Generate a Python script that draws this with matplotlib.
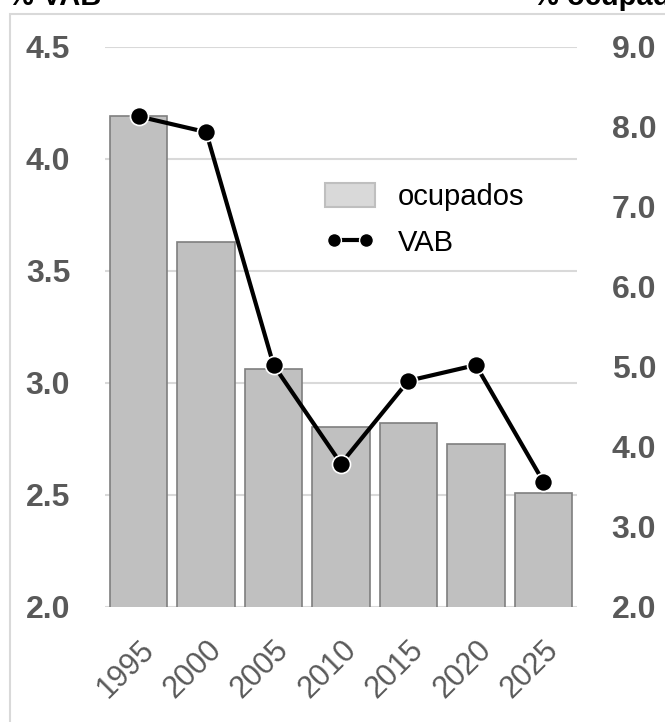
import matplotlib.pyplot as plt
from matplotlib.patches import Patch, Rectangle
from matplotlib.lines import Line2D

# Data
years = ["1995", "2000", "2005", "2010", "2015", "2020", "2025"]
ocupados = [8.14, 6.56, 4.98, 4.25, 4.30, 4.04, 3.43]   # right axis (%)
vab = [4.19, 4.12, 3.08, 2.64, 3.01, 3.08, 2.56]        # left axis (%)
left_ticks = [2.0, 2.5, 3.0, 3.5, 4.0, 4.5]
right_ticks = [2.0, 3.0, 4.0, 5.0, 6.0, 7.0, 8.0, 9.0]

plt.rcParams['font.family'] = ['Liberation Sans', 'DejaVu Sans']

TICK_GREY = "#595959"
GRID = "#d9d9d9"

fig = plt.figure(figsize=(6.65, 7.22), dpi=100)
ax = fig.add_axes([105 / 665, 1 - 607 / 722, 472 / 665, 560 / 722])
ax2 = ax.twinx()

x = list(range(len(years)))

# gridlines (left scale) drawn on the bar axis so they sit under the bars
for t in left_ticks:
    ax2.axhline(2.0 + (t - 2.0) * 7.0 / 2.5, color=GRID, linewidth=1.5, zorder=0)

# bars belong to the right axis (ocupados), line to the left (VAB)
ax2.bar(x, ocupados, width=0.85, color="#c0c0c0", edgecolor="#7f7f7f", linewidth=1.2, zorder=2)
ax.plot(x, vab, color="black", linewidth=3, marker="o", markersize=13,
        markerfacecolor="black", markeredgecolor="white", markeredgewidth=1.2, zorder=5)

ax.set_zorder(ax2.get_zorder() + 1)
ax.patch.set_visible(False)

ax.set_xlim(-0.5, len(years) - 0.5)
ax.set_ylim(2.0, 4.5)
ax2.set_ylim(2.0, 9.0)
ax.set_yticks(left_ticks)
ax.set_yticklabels([f"{t:.1f}" for t in left_ticks])
ax2.set_yticks(right_ticks)
ax2.set_yticklabels([f"{t:.1f}" for t in right_ticks])

ax.set_xticks(x)
ax.set_xticklabels(years, rotation=45, ha="right", rotation_mode="anchor",
                   fontsize=22, color=TICK_GREY)

for a in (ax, ax2):
    for s in a.spines.values():
        s.set_visible(False)
    a.tick_params(axis="both", length=0)

ax.tick_params(axis="y", labelsize=23, labelcolor=TICK_GREY, pad=25)
ax2.tick_params(axis="y", labelsize=23, labelcolor=TICK_GREY, pad=25)
for lab in ax.get_yticklabels() + ax2.get_yticklabels():
    lab.set_fontweight("bold")
ax.tick_params(axis="x", pad=20)

handles = [Patch(facecolor="#d9d9d9", edgecolor="#bfbfbf", linewidth=1.5),
           Line2D([0], [0], color="black", linewidth=3, marker="o", markersize=10,
                  markeredgecolor="white")]
ax.legend(handles, ["ocupados", "VAB"], loc="upper left", bbox_to_anchor=(0.466, 0.757),
          frameon=False, fontsize=21, handlelength=1.7, handleheight=0.9,
          handletextpad=0.8, labelspacing=0.6, borderpad=0, borderaxespad=0,
          numpoints=2)

# outer chart frame
fig.patches.append(Rectangle((10 / 665, -0.05), 1.0, 1 - 14 / 722 + 0.05,
                             transform=fig.transFigure, fill=False,
                             edgecolor=GRID, linewidth=1.5))

# axis titles, cut off at the top edge as in the reference
fig.text(8 / 665, 1 - 5 / 722, "% VAB", fontsize=21, fontweight="bold",
         color="black", ha="left", va="baseline")
fig.text(533 / 665, 1 - 5 / 722, "% ocupados", fontsize=21, fontweight="bold",
         color="black", ha="left", va="baseline")

fig.savefig("out.png", dpi=100)
